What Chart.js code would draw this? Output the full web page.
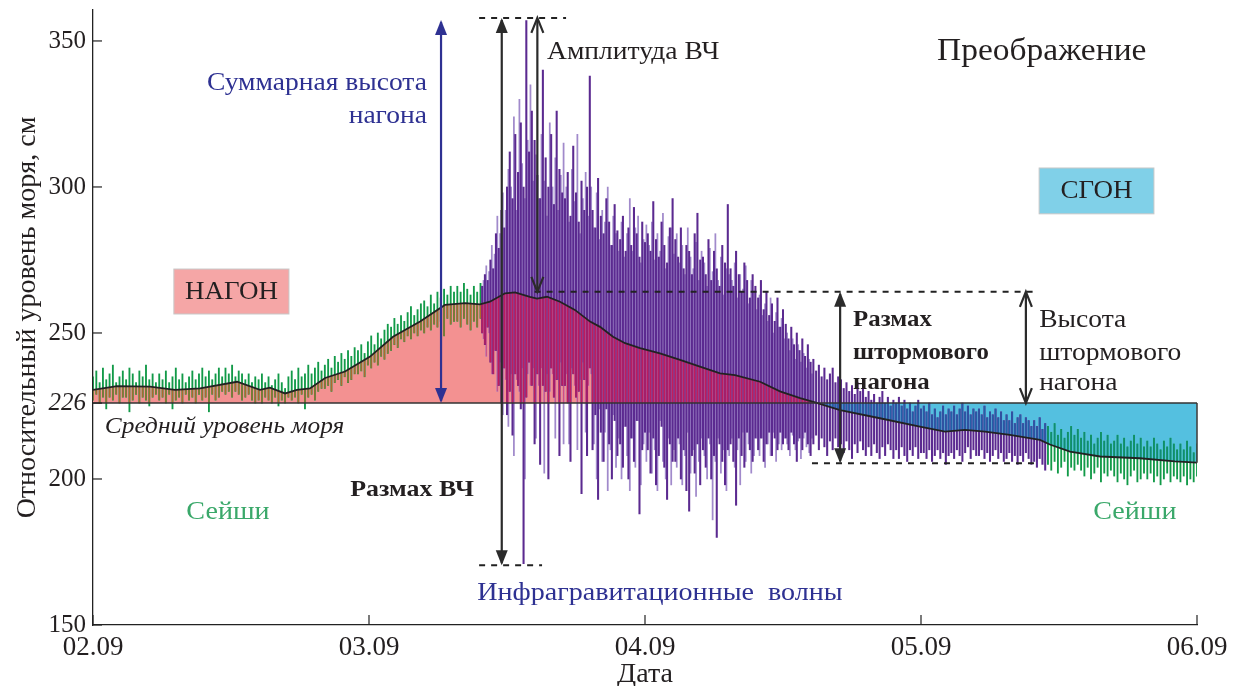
<!DOCTYPE html>
<html>
<head>
<meta charset="utf-8">
<script src="https://cdn.jsdelivr.net/npm/chart.js@4/dist/chart.umd.min.js"></script>
<style>
  html, body { margin: 0; padding: 0; background: #fff; }
  #wrap { width: 1237px; height: 686px; }
</style>
</head>
<body>
<div id="wrap"><canvas id="chart"></canvas></div>
<script>
// Sea level at Preobrazhenie, 02.09 - 06.09 (cm, relative)
const meanLevel = 226;
const yTicks = [150, 200, 226, 250, 300, 350];
const xTickDays = [2, 3, 4, 5, 6];
const xTickLabels = ["02.09", "03.09", "04.09", "05.09", "06.09"];

// storm surge (smoothed level)
const surgeDays = [2.000, 2.087, 2.207, 2.297, 2.388, 2.522, 2.605, 2.641, 2.696, 2.739, 2.786, 2.841, 2.913, 3.004,
  3.087, 3.185, 3.275, 3.348, 3.402, 3.438, 3.493, 3.529, 3.583, 3.609, 3.645, 3.692, 3.746, 3.801, 3.837, 3.884,
  3.928, 3.982, 4.054, 4.127, 4.199, 4.272, 4.326, 4.417, 4.489, 4.562, 4.616, 4.707, 4.851, 4.996, 5.087, 5.159,
  5.232, 5.322, 5.431, 5.467, 5.540, 5.649, 5.793, 5.920, 6.000];
const surgeLevel = [230.5, 231.8, 231.6, 230.5, 231.0, 233.3, 230.5, 231.3, 229.3, 230.5, 231.0, 234.6, 236.8, 241.9,
  248.7, 253.9, 259.6, 260.2, 259.8, 260.7, 263.6, 263.9, 262.4, 261.8, 262.4, 260.7, 257.9, 253.9, 252.1, 248.7,
  246.5, 244.8, 243.0, 240.8, 238.5, 236.2, 235.6, 233.3, 230.0, 227.7, 226.2, 223.6, 220.8, 217.9, 216.2, 216.8,
  216.2, 215.1, 213.4, 211.8, 209.4, 207.7, 207.1, 206.0, 205.6];

// seiches before the storm: range of each 0.012-day sample from 02.09 00h
const seicheLeftStart = 2.0, seicheLeftStep = 0.012;
const seicheLeftHi = [
  235, 237, 233, 238, 234, 236, 239, 233, 235, 237,  234, 238, 236, 233, 237, 235, 239, 234, 236, 233,
  236, 234, 237, 233, 235, 238, 234, 236, 233, 235,  237, 234, 236, 238, 235, 237, 234, 236, 238, 235,
  238, 236, 239, 235, 237, 236, 234, 236, 233, 235,  234, 236, 233, 235, 232, 234, 236, 233, 231, 235,
  237, 234, 238, 235, 236, 239, 236, 238, 240, 237,  239, 241, 238, 242, 240, 243, 241, 244, 242, 245,
  244, 246, 243, 247, 249, 246, 250, 248, 251, 253,  252, 255, 253, 256, 254, 257, 259, 256, 258, 260,
  261, 259, 263, 260, 264, 262, 265, 263, 266, 264,  266, 264, 267, 265, 263, 266, 264, 267, 265];
const seicheLeftLo = [
  227, 229, 226, 228, 224, 228, 227, 229, 226, 228,  228, 223, 227, 229, 226, 228, 227, 225, 228, 229,
  227, 228, 226, 229, 224, 227, 228, 226, 229, 227,  228, 226, 229, 227, 228, 223, 229, 227, 228, 230,
  229, 230, 228, 230, 229, 227, 228, 229, 227, 226,  227, 226, 228, 227, 226, 228, 225, 227, 226, 228,
  227, 228, 226, 229, 224, 228, 229, 227, 230, 231,  231, 232, 230, 233, 234, 232, 235, 233, 234, 236,
  236, 237, 235, 239, 238, 240, 239, 242, 241, 243,  244, 246, 245, 248, 247, 249, 248, 250, 249, 251,
  250, 252, 251, 253, 252, 254, 249, 255, 253, 254,  254, 252, 255, 253, 251, 254, 252, 255, 253];

// infragravity waves: range of each 0.01-day sample from 3.41
const igwStart = 3.41, igwStep = 0.01;
const igwHi = [
  266, 270, 268, 275, 272, 284, 279, 292, 286, 300,  312, 296, 318, 305, 322, 300, 357, 312, 326, 316,
  304, 296, 340, 310, 300, 318, 294, 326, 306, 298,  296, 305, 290, 314, 298, 288, 302, 292, 300, 338,
  292, 286, 303, 290, 284, 296, 288, 280, 294, 285,  282, 290, 278, 286, 280, 293, 284, 276, 288, 281,
  284, 278, 295, 282, 276, 288, 280, 274, 286, 296,  282, 276, 286, 272, 280, 278, 270, 284, 291, 275,
  276, 270, 282, 268, 278, 272, 266, 280, 274, 294,  272, 266, 278, 270, 264, 274, 268, 262, 270, 266,
  262, 268, 258, 264, 256, 260, 254, 262, 252, 258,  253, 248, 252, 246, 250, 244, 248, 242, 246, 240,
  241, 237, 239, 235, 238, 234, 236, 238, 233, 235,  234, 231, 233, 230, 232, 229, 233, 230, 231, 228,
  230, 227, 229, 226, 228, 230, 226, 228, 225, 227,  226, 228, 225, 227, 224, 226, 223, 225, 227, 224,
  225, 223, 226, 222, 224, 221, 223, 225, 222, 224,  223, 225, 222, 224, 226, 223, 225, 222, 224, 223,
  224, 222, 225, 221, 223, 222, 224, 221, 223, 220,  222, 220, 223, 219, 221, 222, 219, 221, 220, 218,
  220, 218, 221, 217, 219];
const igwLo = [
  250, 246, 252, 240, 236, 244, 232, 226, 238, 222,  230, 215, 236, 232, 224, 171, 228, 240, 232, 212,
  236, 205, 232, 230, 200, 238, 228, 234, 208, 232,  232, 226, 206, 236, 228, 230, 195, 234, 208, 238,
  210, 222, 193, 216, 206, 224, 212, 200, 220, 208,  212, 204, 218, 200, 214, 206, 220, 188, 210, 216,
  210, 202, 214, 198, 208, 218, 204, 193, 212, 206,  206, 214, 200, 210, 196, 189, 208, 202, 212, 198,
  210, 204, 214, 200, 208, 180, 212, 206, 198, 210,  212, 206, 191, 214, 208, 204, 216, 210, 206, 214,
  210, 214, 206, 212, 216, 208, 214, 210, 216, 212,  214, 210, 216, 212, 206, 214, 210, 216, 212, 208,
  212, 215, 210, 214, 211, 208, 213, 210, 214, 211,  212, 209, 213, 210, 207, 212, 209, 213, 210, 208,
  211, 208, 212, 209, 207, 211, 208, 212, 210, 207,  210, 207, 211, 208, 206, 210, 208, 211, 207, 209,
  209, 207, 210, 206, 208, 210, 207, 209, 205, 208,  209, 207, 210, 208, 206, 209, 211, 207, 210, 208,
  208, 210, 207, 209, 206, 208, 210, 207, 209, 206,  207, 209, 206, 208, 205, 208, 206, 209, 207, 205,
  206, 204, 207, 205, 203];

// fainter infragravity oscillations between the main samples (from 3.415, every 0.01 day)
const igwFaintStart = 3.415, igwFaintStep = 0.01;
const igwFaintHi = [
  268, 273, 271, 280, 277, 290, 284, 298, 292, 306,  300, 324, 292, 330, 308, 296, 316, 335, 302, 311,
  296, 318, 302, 290, 322, 300, 310, 292, 304, 315,  300, 288, 306, 295, 318, 284, 296, 305, 290, 300,
  286, 298, 282, 292, 288, 300, 280, 290, 284, 278,  288, 276, 284, 296, 278, 286, 290, 274, 282, 287,
  280, 288, 275, 284, 278, 291, 272, 283, 286, 277,  284, 274, 280, 270, 286, 276, 272, 281, 268, 278,
  274, 266, 279, 271, 284, 268, 276, 263, 272, 270,  268, 274, 262, 270, 265, 273, 260, 268, 264, 258,
  263, 256, 260, 254, 262, 250, 257, 252, 255, 248,  250, 244, 248, 241, 246, 240, 243, 238, 241, 236];
const igwFaintLo = [
  248, 242, 250, 236, 244, 230, 240, 222, 234, 218,  236, 208, 234, 230, 238, 200, 236, 232, 238, 214,
  232, 238, 202, 236, 230, 236, 214, 234, 240, 212,  236, 212, 238, 232, 210, 234, 240, 216, 232, 236,
  212, 200, 224, 206, 216, 196, 210, 222, 204, 214,  200, 218, 208, 196, 214, 204, 220, 198, 212, 206,
  216, 202, 210, 196, 220, 206, 200, 214, 198, 210,  204, 212, 198, 208, 216, 202, 210, 194, 206, 214,
  208, 200, 212, 186, 206, 214, 202, 210, 196, 208,  214, 204, 210, 198, 216, 206, 212, 202, 208, 214,
  208, 214, 204, 212, 208, 216, 206, 212, 210, 214,  212, 208, 215, 210, 213, 207, 214, 211, 209, 214];

// seiches after the storm: range of each 0.012-day sample from 5.46
const seicheRightStart = 5.46, seicheRightStep = 0.012;
const seicheRightHi = [
  218, 216, 219, 215, 217, 214, 216, 218, 215, 217,  214, 216, 213, 215, 212, 214, 216, 213, 215, 212,
  213, 215, 212, 214, 211, 213, 215, 212, 214, 211,  213, 211, 214, 212, 210, 213, 211, 214, 212, 210,
  212, 210, 213, 211, 209, 212];
const seicheRightLo = [
  205, 203, 206, 202, 204, 206, 201, 204, 203, 205,  203, 201, 204, 200, 202, 204, 199, 202, 201, 203,
  201, 199, 202, 200, 198, 201, 203, 199, 200, 202,  200, 202, 199, 201, 198, 200, 202, 199, 201, 200,
  199, 201, 198, 200, 199, 201];

const FONT = "'Liberation Serif', 'Times New Roman', serif";
const NAVY = "#2e3192", INK = "#231f20", SEICHE_TXT = "#3aa86a";
const PINK = "rgb(243,145,145)", CYAN = "rgb(84,192,224)";
const STRETCH = 1.08;

const ranges = (start, step, lo, hi) => hi.map((v, i) => ({ x: start + i * step, y: [lo[i], v] }));
const surgePts = surgeDays.map((d, i) => ({ x: d, y: surgeLevel[i] }));
const seg = (x1, y1, x2, y2) => [{ x: x1, y: y1 }, { x: x2, y: y2 }];

const dashed = { borderColor: "#222", borderWidth: 2, borderDash: [6, 6], pointRadius: 0, fill: false, order: 1 };
const spikes = { type: "bar", grouped: false, borderWidth: 0, order: 5 };

// arrows: [day, from, to, colour, open heads]
const arrows = [
  [3.261, 226, 357.2, NAVY, false],
  [3.481, 170.5, 357.9, "#2b2b2b", false],
  [3.610, 264.1, 357.9, "#2b2b2b", true],
  [4.707, 205.4, 264.1, "#2b2b2b", false],
  [5.380, 226, 264.1, "#2b2b2b", true],
];

// text notes: [text, day, level, align, colour, css font]
const notes = [
  ["Суммарная высота", 3.210, 335.6, "right", NAVY, "25.5px"],
  ["нагона", 3.210, 324.3, "right", NAVY, "25.5px"],
  ["Амплитуда ВЧ", 3.645, 346.2, "left", INK, "25.5px"],
  ["Преображение", 5.058, 346.2, "left", INK, "31px"],
  ["Размах", 4.754, 254.5, "left", INK, "bold 23px"],
  ["штормового", 4.754, 243.2, "left", INK, "bold 23px"],
  ["нагона", 4.754, 232.9, "left", INK, "bold 23px"],
  ["Высота", 5.428, 254.5, "left", INK, "25.5px"],
  ["штормового", 5.428, 243.2, "left", INK, "25.5px"],
  ["нагона", 5.428, 232.9, "left", INK, "25.5px"],
  ["Средний уровень моря", 2.043, 217.8, "left", INK, "italic 23.5px"],
  ["Сейши", 2.489, 188.7, "center", SEICHE_TXT, "26px"],
  ["Сейши", 5.775, 188.7, "center", SEICHE_TXT, "26px"],
  ["Размах ВЧ", 3.156, 196.2, "center", INK, "bold 24px"],
  ["Инфрагравитационные  волны", 4.054, 161.0, "center", NAVY, "26px"],
];

// label boxes: [text, day0, day1, level0, level1, fill]
const boxes = [
  ["НАГОН", 2.293, 2.710, 256.5, 271.9, "rgb(245,166,166)"],
  ["СГОН", 5.428, 5.844, 290.8, 306.5, "rgb(128,208,232)"],
];

// repaint the part of each spike lying inside the surge area in a darker tone
const innerTone = {
  id: "innerTone",
  afterDatasetDraw(chart, args) {
    const ds = chart.data.datasets[args.index];
    if (!ds.inner) return;
    const ctx = chart.ctx, area = chart.chartArea;
    const surge = chart.getDatasetMeta(0).data;
    const base = chart.scales.y.getPixelForValue(meanLevel);
    [[ds.inner[0], area.top, base], [ds.inner[1], base, area.bottom]].forEach(([color, y0, y1]) => {
      ctx.save();
      ctx.beginPath();
      ctx.rect(area.left, y0, area.right - area.left, y1 - y0);
      ctx.clip();
      ctx.beginPath();
      ctx.moveTo(surge[0].x, base);
      surge.forEach(p => ctx.lineTo(p.x, p.y));
      ctx.lineTo(surge[surge.length - 1].x, base);
      ctx.closePath();
      ctx.clip();
      ctx.fillStyle = color;
      args.meta.data.forEach(b => {
        ctx.fillRect(b.x - b.width / 2, Math.min(b.y, b.base), b.width, Math.abs(b.base - b.y));
      });
      ctx.restore();
    });
  },
};

const decorations = {
  id: "decorations",
  afterDatasetsDraw(chart) {
    const ctx = chart.ctx, xs = chart.scales.x, ys = chart.scales.y, area = chart.chartArea;
    const px = d => xs.getPixelForValue(d), py = v => ys.getPixelForValue(v);
    ctx.save();
    // inward ticks
    ctx.strokeStyle = "#222";
    ctx.lineWidth = 1.2;
    yTicks.forEach(v => {
      ctx.beginPath(); ctx.moveTo(area.left, py(v)); ctx.lineTo(area.left + 9, py(v)); ctx.stroke();
    });
    xTickDays.forEach(d => {
      ctx.beginPath(); ctx.moveTo(px(d), area.bottom); ctx.lineTo(px(d), area.bottom - 10); ctx.stroke();
    });
    // arrows
    arrows.forEach(([d, a, b, color, open]) => {
      const x = px(d), yTop = py(Math.max(a, b)), yBot = py(Math.min(a, b));
      ctx.strokeStyle = color; ctx.fillStyle = color; ctx.lineWidth = 2.2;
      ctx.beginPath(); ctx.moveTo(x, yTop + 2); ctx.lineTo(x, yBot - 2); ctx.stroke();
      [[yTop, -1], [yBot, 1]].forEach(([y, dir]) => {
        ctx.beginPath();
        ctx.moveTo(x - 6, y - dir * 15); ctx.lineTo(x, y); ctx.lineTo(x + 6, y - dir * 15);
        if (open) { ctx.stroke(); } else { ctx.closePath(); ctx.fill(); }
      });
    });
    const text = (t, x, y, align, color, font) => {
      ctx.save();
      ctx.translate(x, y);
      ctx.scale(STRETCH, 1);
      ctx.fillStyle = color; ctx.font = `${font} ${FONT}`;
      ctx.textAlign = align; ctx.textBaseline = "middle";
      ctx.fillText(t, 0, 0);
      ctx.restore();
    };
    // boxes
    boxes.forEach(([t, d0, d1, v0, v1, fill]) => {
      const x0 = px(d0), x1 = px(d1), y0 = py(v1), y1 = py(v0);
      ctx.fillStyle = fill; ctx.fillRect(x0, y0, x1 - x0, y1 - y0);
      ctx.strokeStyle = "#c8c8c8"; ctx.lineWidth = 1; ctx.strokeRect(x0, y0, x1 - x0, y1 - y0);
      text(t, (x0 + x1) / 2, (y0 + y1) / 2 + 1, "center", INK, "25px");
    });
    notes.forEach(([t, d, v, align, color, font]) => text(t, px(d), py(v), align, color, font));
    ctx.restore();
  },
};

new Chart(document.getElementById("chart"), {
  type: "line",
  data: {
    datasets: [
      { data: surgePts, borderWidth: 0, pointRadius: 0,
        fill: { target: { value: meanLevel }, above: PINK, below: CYAN }, order: 10 },
      { ...spikes, data: ranges(seicheLeftStart, seicheLeftStep, seicheLeftLo, seicheLeftHi),
        backgroundColor: "#129a48", barThickness: 1.2, inner: ["#b0682c", "#10907a"], order: 6 },
      { ...spikes, data: ranges(igwFaintStart, igwFaintStep, igwFaintLo, igwFaintHi),
        backgroundColor: "#a18acb", barThickness: 1.1, inner: ["#d64a7e", "#3b80c0"], order: 5.5 },
      { ...spikes, data: ranges(igwStart, igwStep, igwLo, igwHi),
        backgroundColor: "#5b2a90", barThickness: 1.4, inner: ["#c21c5c", "#1f62a8"] },
      { ...spikes, data: ranges(seicheRightStart, seicheRightStep, seicheRightLo, seicheRightHi),
        backgroundColor: "#129a48", barThickness: 1.2, inner: ["#b0682c", "#0f8a78"], order: 6 },
      { data: surgePts, borderColor: "#222", borderWidth: 1.8, pointRadius: 0, fill: false, order: 3 },
      { data: seg(2, meanLevel, 6, meanLevel), borderColor: "#333", borderWidth: 1.6, pointRadius: 0, fill: false, order: 2 },
      { data: seg(6, meanLevel, 6, surgeLevel[surgeLevel.length - 1]), borderColor: "#444", borderWidth: 1.6,
        pointRadius: 0, fill: false, clip: 4, order: 2 },
      { data: seg(3.399, 357.9, 3.714, 357.9), ...dashed },
      { data: seg(3.399, 170.5, 3.627, 170.5), ...dashed },
      { data: seg(3.60, 264.1, 5.420, 264.1), ...dashed },
      { data: seg(4.605, 205.4, 5.420, 205.4), ...dashed },
    ],
  },
  options: {
    responsive: true,
    maintainAspectRatio: false,
    animation: false,
    layout: { padding: { top: 10, right: 40, bottom: 0, left: 0 } },
    plugins: { legend: { display: false }, tooltip: { enabled: false } },
    scales: {
      x: {
        type: "linear", min: 2, max: 6, offset: false,
        afterBuildTicks: s => { s.ticks = xTickDays.map(v => ({ value: v })); },
        afterFit: s => { s.height = 61; },
        grid: { display: false, drawTicks: false, offset: false },
        border: { display: true, color: "#222", width: 1.3 },
        ticks: { padding: 7, color: INK, font: { family: FONT, size: 27 },
          callback: v => xTickLabels[xTickDays.indexOf(v)] },
        title: { display: true, text: "Дата", color: INK, font: { family: FONT, size: 28, lineHeight: 0.8 },
          padding: { top: 0, bottom: 0 } },
      },
      y: {
        min: 150, max: 360.6,
        afterBuildTicks: s => { s.ticks = yTicks.map(v => ({ value: v })); },
        afterFit: s => { s.width = 93; s.paddingTop = 0; s.paddingBottom = 0; },
        grid: { display: false, drawTicks: false },
        border: { display: true, color: "#222", width: 1.3 },
        ticks: { padding: 7, color: INK,
          font: c => ({ family: FONT, size: 25, style: c.tick && c.tick.value === meanLevel ? "italic" : "normal" }) },
        title: { display: true, text: "Относительный уровень моря, см", color: INK,
          font: { family: FONT, size: 28, lineHeight: 1 }, padding: { top: 14, bottom: 0 } },
      },
    },
  },
  plugins: [innerTone, decorations],
});
</script>
</body>
</html>
